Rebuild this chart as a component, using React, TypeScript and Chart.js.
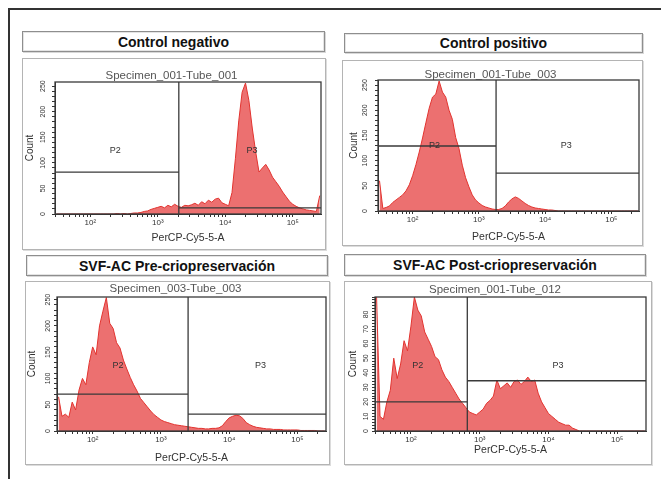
import React, { useEffect, useRef } from 'react';
import { Chart, registerables } from 'chart.js';

Chart.register(...registerables);

// ---------- data ----------
const PANEL_TITLES = ['Control negativo', 'Control positivo', 'SVF-AC Pre-criopreservación', 'SVF-AC Post-criopreservación'];
const SPECIMENS = ['Specimen_001-Tube_001', 'Specimen_001-Tube_003', 'Specimen_003-Tube_003', 'Specimen_001-Tube_012'];
const X_TITLE = 'PerCP-Cy5-5-A';
const Y_TITLE = 'Count';
const GATE_NAMES = ['P2', 'P3'];

// histogram bins: log10 channel from 1.5 in steps of 0.05
const BIN_LOG_START = 1.5;
const BIN_LOG_STEP = 0.05;
const X_MIN = 30;
const X_MAX = 262144;
const DECADES = [10, 100, 1000, 10000, 100000];
const DECADE_LABELS = ['', '10²', '10³', '10⁴', '10⁵'];
const MULTIPLIERS = [1, 2, 3, 4, 5, 6, 7, 8, 9];

const NEG_COUNTS = [
  0, 0, 0, 0, 0, 0, 0, 0, 0, 0,
  0, 0, 0, 0, 0, 0, 0, 0, 1, 0,
  1, 0, 1, 2, 2, 3, 5, 6, 9, 11,
  13, 15, 12, 17, 14, 19, 15, 13, 17, 16,
  18, 21, 17, 24, 20, 27, 23, 29, 31, 22,
  19, 16, 42, 108, 182, 238, 256, 222, 168, 122,
  82, 90, 97, 86, 72, 63, 54, 43, 34, 25,
  19, 15, 12, 10, 8, 7, 6, 5, 36,
];
const POS_COUNTS = [
  60, 5, 7, 10, 17, 22, 27, 32, 40, 52,
  70, 92, 117, 145, 175, 204, 226, 232, 258, 236,
  226, 200, 182, 146, 124, 91, 66, 48, 32, 22,
  16, 11, 8, 6, 4, 3, 3, 5, 10, 18,
  24, 28, 25, 20, 15, 11, 8, 6, 5, 4,
  3, 2, 2, 1, 0, 0, 0, 0, 0, 0,
  0, 0, 0, 0, 0, 0, 0, 0, 0, 0,
  0, 0, 0, 0, 0, 0, 0, 0, 0,
];
const PRE_COUNTS = [
  65, 28, 32, 26, 55, 40, 78, 100, 88, 130,
  160, 145, 200, 228, 254, 205, 195, 168, 158, 135,
  118, 102, 88, 76, 62, 54, 46, 38, 31, 26,
  21, 18, 16, 14, 12, 11, 10, 9, 8, 7,
  6, 5, 5, 4, 4, 5, 5, 6, 10, 18,
  25, 28, 30, 29, 24, 16, 12, 9, 7, 6,
  5, 4, 4, 3, 3, 3, 2, 2, 2, 2,
  2, 1, 1, 1, 1, 1, 0, 0, 0,
];
const POST_COUNTS = [
  92, 10, 8, 20, 28, 50, 36, 46, 62, 55,
  72, 92, 83, 79, 68, 63, 58, 51, 49, 42,
  37, 34, 30, 26, 22, 19, 16, 13, 12, 11,
  13, 15, 19, 21, 24, 35, 29, 31, 33, 30,
  34, 35, 32, 34, 37, 34, 35, 26, 20, 16,
  12, 10, 8, 6, 5, 4, 4, 2, 1, 0,
  0, 0, 0, 0, 0, 0, 0, 0, 0, 0,
  0, 0, 0, 0, 0, 0, 0, 0, 0,
];
const ALL_COUNTS = [NEG_COUNTS, POS_COUNTS, PRE_COUNTS, POST_COUNTS];

const Y_MAXES = [258, 260, 255, 92];
const Y_MINOR_STEPS = [10, 10, 10, 2];
const Y_LABELS_BIG = [0, 50, 100, 150, 200, 250];
const Y_LABELS_SMALL = [0, 10, 20, 30, 40, 50, 60, 70, 80];
const Y_LABEL_SETS = [Y_LABELS_BIG, Y_LABELS_BIG, Y_LABELS_BIG, Y_LABELS_SMALL];

// gates: divider between P2 and P3, and the level of each gate's bar
const GATE_DIVIDERS = [2050, 1820, 2500, 660];
const P2_LEVELS = [82, 129, 70, 20];
const P3_LEVELS = [12, 75, 32, 34.5];
const P2_LABEL_X = [235, 214, 234, 126];
const P3_LABEL_X = [25000, 20900, 28800, 13800];
const GATE_LABEL_Y = [125, 129, 125, 45];

// ---------- layout ----------
const FONT = '"Liberation Sans", Arial, Helvetica, sans-serif';

const TITLE_BOXES = [
  { l: 22, t: 31, w: 303, h: 21 },
  { l: 344, t: 33, w: 299, h: 20 },
  { l: 26, t: 255, w: 302, h: 21 },
  { l: 344, t: 254, w: 302, h: 22 },
];

const PANELS = [
  { l: 22, t: 58, w: 304, h: 192, pl: 33, pr: 299, pt: 24, pb: 156, titleY: 18, countX: 8, xTitleY: 180, yPad: 3 },
  { l: 342, t: 60, w: 301, h: 186, pl: 36, pr: 297, pt: 20, pb: 151, titleY: 15, countX: 12, xTitleY: 177, yPad: 4 },
  { l: 25, t: 281, w: 305, h: 184, pl: 32, pr: 301, pt: 16, pb: 150, titleY: 8, countX: 7, xTitleY: 177, yPad: 0 },
  { l: 344, t: 281, w: 308, h: 184, pl: 31, pr: 302, pt: 16, pb: 150, titleY: 9, countX: 9, xTitleY: 169, yPad: 2 },
];

const X_TICKS: number[] = [];
DECADES.forEach((d) => MULTIPLIERS.forEach((m) => {
  const v = d * m;
  if (v >= X_MIN && v <= X_MAX) X_TICKS.push(v);
}));

const gatePlugin = {
  id: 'gates',
  afterDatasetsDraw(chart: any, _args: any, opts: any) {
    const { ctx, chartArea: a, scales } = chart;
    const x = scales.x;
    const y = scales.y;
    const xd = x.getPixelForValue(opts.divider);
    const y2 = y.getPixelForValue(opts.p2);
    const y3 = y.getPixelForValue(opts.p3);
    ctx.save();
    ctx.strokeStyle = '#3a3a3a';
    ctx.lineWidth = 1.3;
    ctx.beginPath();
    ctx.moveTo(a.left, y2);
    ctx.lineTo(xd, y2);
    ctx.moveTo(xd, y3);
    ctx.lineTo(a.right, y3);
    ctx.moveTo(xd, a.top);
    ctx.lineTo(xd, a.bottom);
    ctx.stroke();
    ctx.strokeRect(a.left, a.top, a.right - a.left, a.bottom - a.top);
    ctx.fillStyle = '#333';
    ctx.font = `9px ${FONT}`;
    ctx.textAlign = 'center';
    ctx.textBaseline = 'middle';
    ctx.fillText(GATE_NAMES[0], x.getPixelForValue(opts.p2x), y.getPixelForValue(opts.ly));
    ctx.fillText(GATE_NAMES[1], x.getPixelForValue(opts.p3x), y.getPixelForValue(opts.ly));
    ctx.restore();
  },
};

function buildConfig(i: number): any {
  const L = PANELS[i];
  const counts = ALL_COUNTS[i];
  const yMax = Y_MAXES[i];
  const minor = Y_MINOR_STEPS[i];
  const yLabels = Y_LABEL_SETS[i];
  const data = counts.map((c, k) => ({ x: Math.pow(10, BIN_LOG_START + BIN_LOG_STEP * k), y: c }));
  return {
    type: 'line',
    data: {
      datasets: [{
        data,
        borderColor: '#E2332F',
        backgroundColor: 'rgba(232,80,80,0.82)',
        borderWidth: 1,
        pointRadius: 0,
        fill: 'origin',
        tension: 0,
      }],
    },
    plugins: [gatePlugin],
    options: {
      responsive: false,
      animation: false,
      devicePixelRatio: 1,
      layout: { padding: { left: 0, right: L.w - L.pr, top: 0, bottom: 0 } },
      plugins: {
        legend: { display: false },
        tooltip: { enabled: false },
        title: {
          display: true,
          text: SPECIMENS[i],
          color: '#555',
          font: { size: 11.5, family: FONT, weight: 'normal', lineHeight: 1 },
          padding: { top: L.titleY - 5.75, bottom: L.pt - L.titleY - 5.75 },
        },
        gates: {
          divider: GATE_DIVIDERS[i],
          p2: P2_LEVELS[i],
          p3: P3_LEVELS[i],
          p2x: P2_LABEL_X[i],
          p3x: P3_LABEL_X[i],
          ly: GATE_LABEL_Y[i],
        },
      },
      scales: {
        x: {
          type: 'logarithmic',
          min: X_MIN,
          max: X_MAX,
          afterBuildTicks: (s: any) => { s.ticks = X_TICKS.map((v) => ({ value: v })); },
          afterFit: (s: any) => { s.height = L.h - L.pb; },
          ticks: {
            autoSkip: false,
            minRotation: 0,
            maxRotation: 0,
            padding: 1,
            color: '#333',
            font: { size: 8, family: FONT },
            callback: (v: any) => {
              const k = DECADES.indexOf(Number(v));
              return k >= 0 ? DECADE_LABELS[k] : '';
            },
          },
          grid: { drawOnChartArea: false, drawTicks: true, tickLength: 3, color: '#333' },
          border: { display: true, color: '#333', width: 1 },
          title: {
            display: true,
            text: X_TITLE,
            color: '#333',
            font: { size: 10.5, family: FONT, lineHeight: 1 },
            padding: { top: 0, bottom: L.h - L.xTitleY - 5.25 },
          },
        },
        y: {
          type: 'linear',
          min: 0,
          max: yMax,
          afterBuildTicks: (s: any) => {
            const t: any[] = [];
            for (let v = 0; v <= yMax; v += minor) t.push({ value: v });
            s.ticks = t;
          },
          afterFit: (s: any) => { s.width = L.pl; },
          ticks: {
            autoSkip: false,
            minRotation: 90,
            maxRotation: 90,
            crossAlign: 'center',
            padding: L.yPad,
            color: '#333',
            font: { size: 7, family: FONT },
            callback: (v: any) => (yLabels.indexOf(Number(v)) >= 0 ? String(v) : ''),
          },
          grid: { drawOnChartArea: false, drawTicks: true, tickLength: 3, color: '#333' },
          border: { display: true, color: '#333', width: 1 },
          title: {
            display: true,
            text: Y_TITLE,
            color: '#333',
            font: { size: 10, family: FONT, lineHeight: 1 },
            padding: { top: L.countX - 5, bottom: 0 },
          },
        },
      },
    },
  };
}

function Histogram({ idx }: { idx: number }) {
  const ref = useRef<HTMLCanvasElement | null>(null);
  useEffect(() => {
    if (!ref.current) return;
    const chart = new Chart(ref.current, buildConfig(idx));
    return () => chart.destroy();
  }, [idx]);
  const L = PANELS[idx];
  return (
    <div style={{ position: 'absolute', left: L.l, top: L.t, width: L.w, height: L.h, background: '#fff' }}>
      <canvas ref={ref} width={L.w} height={L.h} style={{ display: 'block', width: L.w, height: L.h }} />
      <div style={{ position: 'absolute', left: 0, top: 0, right: 0, bottom: 0, border: '1px solid #b4b4b4', boxShadow: '1px 1px 0 #dcdcdc', pointerEvents: 'none' }} />
    </div>
  );
}

function TitleBox({ idx }: { idx: number }) {
  const b = TITLE_BOXES[idx];
  return (
    <div style={{
      position: 'absolute', left: b.l, top: b.t, width: b.w, height: b.h, boxSizing: 'border-box',
      border: '1px solid #8e8e8e', boxShadow: 'inset 0 0 0 1px #e4e4e4, 1px 1px 0 #d8d8d8', background: '#fff',
      display: 'flex', alignItems: 'center', justifyContent: 'center',
      fontFamily: FONT, fontWeight: 'bold', fontSize: 14, color: '#111', whiteSpace: 'nowrap',
    }}>
      {PANEL_TITLES[idx]}
    </div>
  );
}

export default function App() {
  return (
    <div style={{ position: 'absolute', left: 0, top: 0, width: 661, height: 479, overflow: 'hidden', background: '#fff' }}>
      <div style={{ position: 'absolute', left: 8, top: 8, width: 700, height: 500, borderTop: '2px solid #333', borderLeft: '2px solid #333' }} />
      {[0, 1, 2, 3].map((i) => <TitleBox key={'t' + i} idx={i} />)}
      {[0, 1, 2, 3].map((i) => <Histogram key={'h' + i} idx={i} />)}
    </div>
  );
}
